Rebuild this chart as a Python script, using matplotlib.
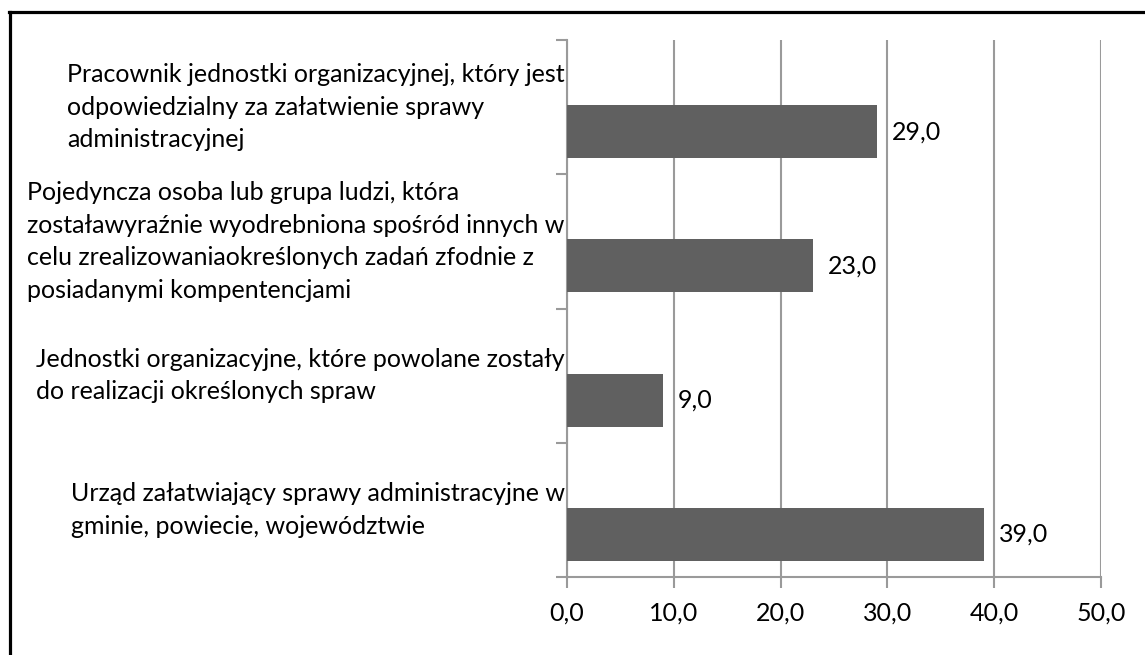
import matplotlib
matplotlib.use("Agg")
import matplotlib.pyplot as plt
from matplotlib.lines import Line2D
import matplotlib.transforms as mtransforms

categories = [
    "Urząd załatwiający sprawy administracyjne w\ngminie, powiecie, województwie",
    "Jednostki organizacyjne, które powolane zostały\ndo realizacji określonych spraw",
    "Pojedyncza osoba lub grupa ludzi, która\nzostaławyraźnie wyodrebniona spośród innych w\ncelu zrealizowaniaokreślonych zadań zfodnie z\nposiadanymi kompentencjami",
    "Pracownik jednostki organizacyjnej, który jest\nodpowiedzialny za załatwienie sprawy\nadministracyjnej",
]
values = [39.0, 9.0, 23.0, 29.0]
xticks = [0, 10, 20, 30, 40, 50]

plt.rcParams['font.family'] = ['Lato', 'DejaVu Sans']
FS = 18
GRAY = '#9a9a9a'

W, H = 1145, 655
fig = plt.figure(figsize=(W / 100, H / 100), dpi=100)
ax = fig.add_axes([567 / W, 1 - 577 / H, (1101 - 567) / W, (577 - 40) / H])

ypos = list(range(len(categories)))
bar_y = [y - 0.183 for y in ypos]
ax.barh(bar_y, values, height=0.395, color='#606060', zorder=3)

ax.set_xlim(0, 50)
ax.set_ylim(-0.5, len(categories) - 0.5)

ax.set_xticks(xticks)
ax.set_xticklabels([f"{v:.1f}".replace('.', ',') for v in xticks], fontsize=FS)
ax.tick_params(axis='x', length=8, width=1.5, color=GRAY, pad=10)
ax.xaxis.grid(True, color=GRAY, linewidth=1.5, zorder=0)

ax.set_yticks([])
ax.set_yticks([y - 0.5 for y in ypos] + [len(categories) - 0.5], minor=True)
ax.tick_params(axis='y', which='minor', length=8, width=1.5, color=GRAY)

for s in ['top', 'right']:
    ax.spines[s].set_visible(False)
for s in ['left', 'bottom']:
    ax.spines[s].set_color(GRAY)
    ax.spines[s].set_linewidth(1.5)

trans = mtransforms.blended_transform_factory(ax.transAxes, ax.transData)
for y, lab in zip(ypos, categories):
    ax.text(-0.004, y, lab, transform=trans, ha='right', va='center',
            multialignment='left', fontsize=FS, linespacing=1.5)

offset = mtransforms.offset_copy(ax.transData, fig=fig, x=15 / 100 * 72, y=0, units='points')
for by, v in zip(bar_y, values):
    ax.text(v, by, f"{v:.1f}".replace('.', ','), transform=offset,
            ha='left', va='center', fontsize=FS)

# figure border (left and top visible)
fig.add_artist(Line2D([9.5 / W, 9.5 / W], [0, 1 - 12 / H], transform=fig.transFigure,
                      color='black', linewidth=2.3))
fig.add_artist(Line2D([8.5 / W, 1], [1 - 12 / H, 1 - 12 / H], transform=fig.transFigure,
                      color='black', linewidth=2.3))

fig.savefig("out.png", dpi=100)
